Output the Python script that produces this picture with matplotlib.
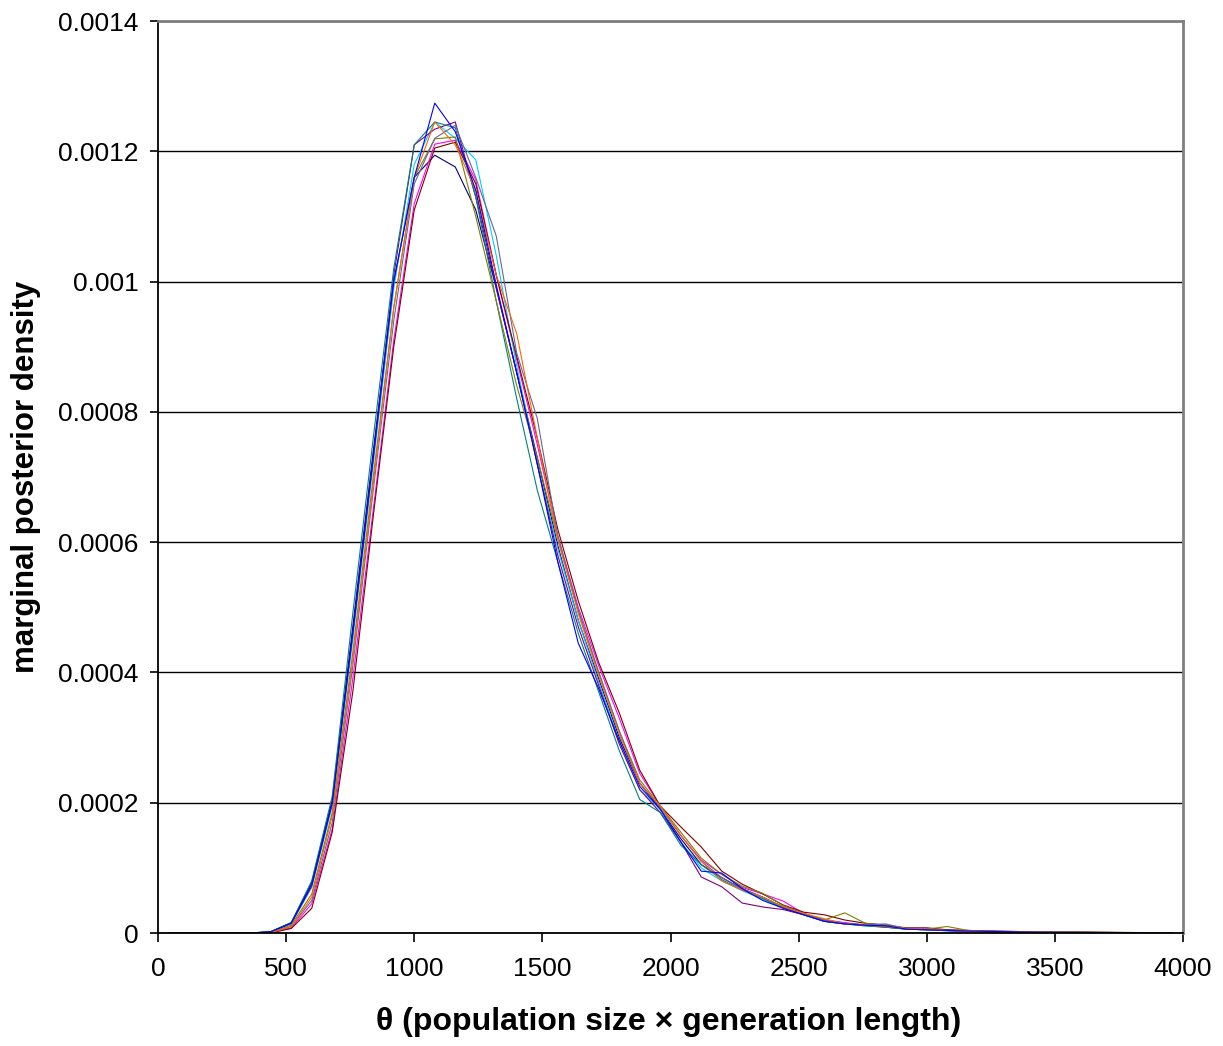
import matplotlib
matplotlib.use("Agg")
import matplotlib.pyplot as plt
import numpy as np

plt.rcParams["font.family"] = ["Liberation Sans", "DejaVu Sans"]

# bin centres of theta
theta = list(range(40, 4000, 80))

# density values, units of 1e-4
navy = [0, 0, 0, 0, 0, 0.02, 0.16, 0.78, 2.05, 4.7, 7.4, 10.0, 11.6, 11.94, 11.76, 11.1, 9.9, 8.6, 7.3, 5.95,
        4.8, 3.9, 3.0, 2.3, 1.9, 1.45, 1.05, 0.85, 0.68, 0.55, 0.4, 0.3, 0.2, 0.15, 0.12, 0.11, 0.07, 0.06, 0.04, 0.03,
        0.025, 0.02, 0.018, 0.015, 0.012, 0.01, 0.008, 0.006, 0.005, 0.004]
magenta = [0, 0, 0, 0, 0, 0.01, 0.08, 0.45, 1.6, 3.9, 6.5, 9.1, 11.2, 12.11, 12.17, 11.56, 10.1, 8.8, 7.5, 6.1,
           5.0, 4.1, 3.3, 2.45, 1.95, 1.5, 1.12, 0.9, 0.7, 0.6, 0.49, 0.3, 0.2, 0.16, 0.12, 0.1, 0.07, 0.06, 0.045, 0.04,
           0.03, 0.025, 0.02, 0.015, 0.012, 0.01, 0.008, 0.006, 0.005, 0.004]
cyan = [0, 0, 0, 0, 0, 0.02, 0.14, 0.7, 1.95, 4.5, 7.2, 9.9, 11.8, 12.45, 12.2, 11.87, 10.4, 8.7, 7.2, 5.9,
        4.8, 3.85, 2.95, 2.2, 1.9, 1.4, 1.0, 0.8, 0.65, 0.52, 0.38, 0.28, 0.18, 0.14, 0.11, 0.09, 0.06, 0.05, 0.035, 0.025,
        0.02, 0.018, 0.015, 0.012, 0.01, 0.008, 0.006, 0.005, 0.004, 0.003]
purple = [0, 0, 0, 0, 0, 0.02, 0.15, 0.72, 2.0, 4.6, 7.3, 10.1, 12.1, 12.34, 12.45, 11.3, 9.9, 8.6, 7.2, 5.8,
          4.7, 3.8, 2.9, 2.2, 1.85, 1.4, 0.86, 0.71, 0.46, 0.4, 0.36, 0.28, 0.18, 0.14, 0.12, 0.09, 0.06, 0.05, 0.04, 0.03,
          0.025, 0.02, 0.015, 0.012, 0.01, 0.008, 0.006, 0.005, 0.004, 0.003]
darkred = [0, 0, 0, 0, 0, 0.0, 0.07, 0.38, 1.55, 3.7, 6.4, 9.0, 11.1, 12.05, 12.14, 11.5, 10.1, 8.85, 7.6, 6.2,
           5.1, 4.15, 3.38, 2.5, 1.95, 1.63, 1.32, 0.95, 0.75, 0.6, 0.43, 0.32, 0.28, 0.2, 0.15, 0.12, 0.08, 0.08, 0.05, 0.04,
           0.03, 0.025, 0.02, 0.018, 0.015, 0.012, 0.01, 0.008, 0.006, 0.005]
teal = [0, 0, 0, 0, 0, 0.02, 0.16, 0.8, 2.1, 4.9, 7.6, 10.2, 12.1, 12.45, 12.36, 11.3, 9.7, 8.2, 6.8, 5.7,
        4.6, 3.7, 2.8, 2.05, 1.85, 1.35, 1.05, 0.82, 0.66, 0.53, 0.39, 0.28, 0.18, 0.14, 0.11, 0.09, 0.06, 0.05, 0.035, 0.025,
        0.02, 0.018, 0.015, 0.012, 0.01, 0.008, 0.006, 0.005, 0.004, 0.003]
blue = [0, 0, 0, 0, 0, 0.02, 0.15, 0.75, 2.0, 4.6, 7.3, 10.0, 11.6, 12.74, 12.3, 11.4, 9.95, 8.6, 7.2, 5.7,
        4.45, 3.75, 2.95, 2.25, 1.9, 1.4, 0.95, 0.92, 0.68, 0.5, 0.38, 0.28, 0.18, 0.14, 0.12, 0.11, 0.06, 0.05, 0.04, 0.03,
        0.025, 0.02, 0.015, 0.012, 0.01, 0.008, 0.006, 0.005, 0.004, 0.003]
orange = [0, 0, 0, 0, 0, 0.01, 0.1, 0.55, 1.8, 4.2, 6.9, 9.6, 11.6, 12.45, 12.1, 11.4, 10.1, 9.2, 7.6, 6.05,
          4.9, 3.95, 3.05, 2.3, 1.95, 1.5, 1.1, 0.8, 0.66, 0.55, 0.4, 0.3, 0.22, 0.14, 0.12, 0.1, 0.07, 0.06, 0.04, 0.03,
          0.025, 0.02, 0.018, 0.015, 0.012, 0.01, 0.008, 0.006, 0.005, 0.004]
olive = [0, 0, 0, 0, 0, 0.01, 0.12, 0.6, 1.85, 4.3, 7.0, 9.6, 11.6, 12.19, 12.22, 11.0, 9.7, 8.4, 7.3, 6.05,
         4.95, 4.0, 3.1, 2.35, 1.95, 1.55, 1.15, 0.9, 0.72, 0.61, 0.42, 0.3, 0.2, 0.31, 0.15, 0.12, 0.07, 0.06, 0.1, 0.04,
         0.03, 0.025, 0.02, 0.02, 0.018, 0.012, 0.01, 0.008, 0.006, 0.005]
greyblue = [0, 0, 0, 0, 0, 0.01, 0.1, 0.5, 1.7, 4.1, 6.8, 9.4, 11.5, 12.2, 12.4, 11.6, 10.7, 8.9, 7.9, 6.1,
            4.95, 4.0, 3.1, 2.3, 1.93, 1.5, 1.1, 0.85, 0.68, 0.55, 0.4, 0.29, 0.19, 0.15, 0.13, 0.14, 0.07, 0.06, 0.04, 0.03,
            0.025, 0.02, 0.018, 0.015, 0.012, 0.01, 0.008, 0.006, 0.005, 0.004]

series = [
    (navy, "#000080"),
    (magenta, "#FF00FF"),
    (cyan, "#00CCFF"),
    (purple, "#800080"),
    (darkred, "#800000"),
    (teal, "#008080"),
    (olive, "#808000"),
    (greyblue, "#666699"),
    (orange, "#FF6600"),
    (blue, "#0000FF"),
]

yticks = [0, 0.0002, 0.0004, 0.0006, 0.0008, 0.001, 0.0012, 0.0014]
ytick_labels = ["0", "0.0002", "0.0004", "0.0006", "0.0008", "0.001", "0.0012", "0.0014"]
xticks = [0, 500, 1000, 1500, 2000, 2500, 3000, 3500, 4000]

fig = plt.figure(figsize=(12.23, 10.46), dpi=100)
ax = fig.add_axes([0.1292, 0.108, 0.8381, 0.8719])

for vals, col in series:
    ax.plot(theta, np.array(vals) * 1e-4, color=col, lw=0.8)

ax.set_xlim(0, 4000)
ax.set_ylim(0, 0.0014)
ax.set_xticks(xticks)
ax.set_yticks(yticks)
ax.set_yticklabels(ytick_labels)
ax.yaxis.grid(True, color="black", lw=1.0)
ax.set_axisbelow(True)

ax.tick_params(labelsize=19, direction="out", width=1.2, color="black")
ax.tick_params(axis="x", length=6.5, pad=11)
ax.tick_params(axis="y", length=6, pad=8)
for s in ["left", "bottom"]:
    ax.spines[s].set_color("black")
    ax.spines[s].set_linewidth(1.3)
for s in ["top", "right"]:
    ax.spines[s].set_color("#808080")
    ax.spines[s].set_linewidth(2)

fig.text(669 / 1223, 1 - 1022 / 1046, "θ (population size × generation length)",
         fontsize=23, fontweight="bold", ha="center", va="center")
fig.text(26.5 / 1223, 1 - 477 / 1046, "marginal posterior density",
         fontsize=22.5, fontweight="bold", ha="center", va="center", rotation=90)

fig.savefig("out.png", dpi=100)
